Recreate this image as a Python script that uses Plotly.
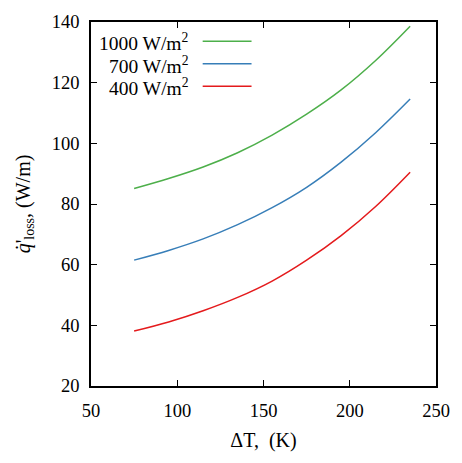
import plotly.graph_objects as go

delta_t = [75, 95, 115, 135, 155, 175, 195, 215, 235]
q_1000 = [85.1, 88.4, 92.2, 96.9, 102.7, 109.6, 117.6, 127.3, 138.6]
q_700 = [61.5, 64.7, 68.5, 73.2, 78.8, 85.5, 93.8, 103.5, 114.6]
q_400 = [38.1, 41.1, 44.8, 49.2, 54.6, 61.5, 69.6, 79.2, 90.5]

series_names = ["1000 W/m<sup>2</sup>", "700 W/m<sup>2</sup>", "400 W/m<sup>2</sup>"]
series_vals = [q_1000, q_700, q_400]
colors = ["#4daf4a", "#377eb8", "#e41a1c"]

x_ticks = [50, 100, 150, 200, 250]
y_ticks = [20, 40, 60, 80, 100, 120, 140]

FONT = "Liberation Serif, Times New Roman, Times, serif"

fig = go.Figure()
for name, vals, c in zip(series_names, series_vals, colors):
    fig.add_trace(go.Scatter(x=delta_t, y=vals, mode="lines", name=name,
                             line=dict(color=c, width=1.5, shape="spline", smoothing=1.0),
                             showlegend=False))

# custom legend (text right-aligned, line sample on the right)
W, H = 462, 463
L, R, T, B = 91, 25, 15, 77
pw, ph = W - L - R, H - T - B
def px(x):
    return (x - L) / pw
def py(y):
    return 1 - (y - T) / ph

for i, (name, c) in enumerate(zip(series_names, colors)):
    yy = 34.5 + 23 * i
    fig.add_annotation(xref="paper", yref="paper", x=px(191), y=py(yy + 1),
                       xanchor="right", yanchor="middle", showarrow=False,
                       text=name, font=dict(family=FONT, size=19.5, color="black"))
    fig.add_shape(type="line", xref="paper", yref="paper",
                  x0=px(203), x1=px(252), y0=py(yy), y1=py(yy),
                  line=dict(color=c, width=1.5))

axis_common = dict(showline=True, linecolor="black", linewidth=1.5, mirror="ticks",
                   ticks="inside", ticklen=6, tickwidth=1, tickcolor="black",
                   showgrid=False, zeroline=False,
                   tickfont=dict(family=FONT, size=18.5, color="black"))

fig.update_xaxes(range=[50, 250], tickvals=x_ticks, ticklabelstandoff=7,
                 title=dict(text="ΔT,  (K)", font=dict(family=FONT, size=20, color="black"), standoff=13),
                 **axis_common)
fig.update_yaxes(range=[20, 140], tickvals=y_ticks, ticklabelstandoff=6,
                 title=dict(text="<i>q̇</i>'<sub>loss</sub>, (W/m)", font=dict(family=FONT, size=20, color="black"), standoff=16),
                 **axis_common)

fig.update_layout(width=W, height=H, margin=dict(l=L, r=R, t=T, b=B),
                  plot_bgcolor="white", paper_bgcolor="white",
                  font=dict(family=FONT, color="black"))

fig.write_html("out.html")
